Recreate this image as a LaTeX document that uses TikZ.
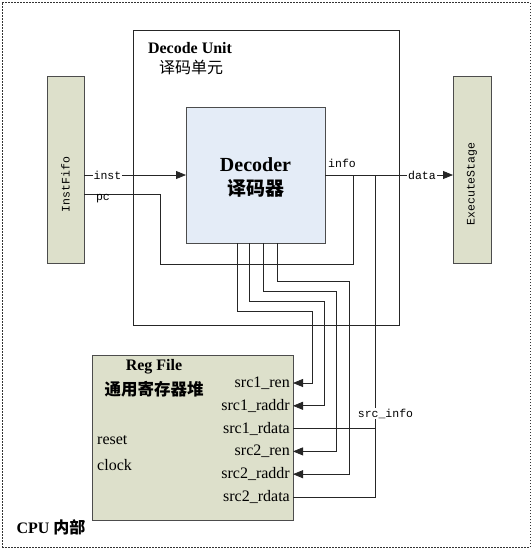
\documentclass[tikz,border=0pt]{standalone}
\usepackage{fontspec}
\setmainfont{Liberation Serif}
\setmonofont{Liberation Mono}
\newfontfamily\cjk{Noto Sans CJK SC}
\usetikzlibrary{arrows.meta}
\usetikzlibrary{calc}

\definecolor{olivefill}{RGB}{221,224,203}
\definecolor{bluefill}{RGB}{228,236,247}

\tikzset{
  blockbox/.style={draw=black!70, line width=1pt, inner sep=0pt, outer sep=0pt, anchor=north west},
  sig/.style={draw=black!85, line width=0.8pt},
  arr/.style={sig, -{Triangle[length=10pt,width=8pt]}},
  port/.style={anchor=east, inner sep=0pt, font=\fontsize{16}{17}\selectfont},
  wire text/.style={inner sep=1pt, font=\ttfamily\fontsize{11.5}{13}\selectfont},
  wirelabel/.style={wire text, fill=white},
}

\begin{document}
\begin{tikzpicture}[x=1pt,y=1pt,yscale=-1,xscale=1]
\useasboundingbox (0,0) rectangle (532,550);

%Shape: Rectangle (outer frame)
\node[blockbox, draw=black!80, line width=0.8pt, dash pattern=on 1.5pt off 1.5pt, minimum width=528pt, minimum height=545pt] (cpu) at (2,2) {};
%Shape: Rectangle
\node[blockbox, draw=black!85, line width=0.8pt, minimum width=266pt, minimum height=295pt] (unit) at (133,30) {};
%Shape: Rectangle
\node[blockbox, fill=olivefill, minimum width=37pt, minimum height=187pt] (fifo) at (47,76) {};
%Shape: Rectangle
\node[blockbox, fill=olivefill, minimum width=38pt, minimum height=187pt] (exec) at (453,76) {};
%Shape: Rectangle
\node[blockbox, fill=bluefill, minimum width=139pt, minimum height=136pt] (decoder) at (186,107) {};
%Shape: Rectangle
\node[blockbox, fill=olivefill, minimum width=201pt, minimum height=165pt] (regfile) at (92,355) {};

% Text Node
\node[font=\bfseries\fontsize{16}{18}\selectfont] (unittitle) at (190,48) {Decode Unit};
% Text Node
\node[font=\cjk\fontsize{16}{18}\selectfont] (unittitlecn) at (191,67) {译码单元};
% Text Node
\node[font=\bfseries\fontsize{20}{22}\selectfont] (dectitle) at (255.5,165) {Decoder};
% Text Node
\node[font=\cjk\bfseries\fontsize{19}{21}\selectfont] (dectitlecn) at (255.5,188) {译码器};
% Text Node
\node[font=\bfseries\fontsize{16}{18}\selectfont] (rftitle) at (154,367) {Reg File};
% Text Node
\node[font=\cjk\bfseries\fontsize{16.5}{18}\selectfont] (rftitlecn) at (154,389) {通用寄存器堆};
% Text Node
\node[port, anchor=west] (reset) at (97,440) {reset};
% Text Node
\node[port, anchor=west] (clock) at (97,465) {clock};
% Text Node
\node[anchor=west, font=\bfseries\fontsize{16}{18}\selectfont] (cpulbl) at (13,527) {CPU {\cjk 内部}};
% Text Node
\node[wire text, rotate=90] (fifolbl) at (65.5,184.5) {InstFifo};
% Text Node
\node[wire text, rotate=90] (execlbl) at (472,184) {ExecuteStage};

% Text Node (ports)
\node[port] (ren1) at (290,383) {src1\_ren};
\node[port] (raddr1) at (290,405.8) {src1\_raddr};
\node[port] (rdata1) at (290,428.6) {src1\_rdata};
\node[port] (ren2) at (290,451.4) {src2\_ren};
\node[port] (raddr2) at (290,474.2) {src2\_raddr};
\node[port] (rdata2) at (290,497) {src2\_rdata};

\coordinate (pcjoin) at (353,175);
\coordinate (srcjoin) at (375,175);

%Straight Lines (inst)
\draw[arr] (fifo.east |- decoder.west) -- (decoder.west);
%Straight Lines (info -> data)
\draw[arr] (decoder.east) -- (exec.west |- decoder.east);
%Straight Lines (pc)
\draw[sig] (fifo.east |- 0,194) -| (160,264) -| (pcjoin);
%Straight Lines (src_info)
\draw[sig] (srcjoin) |- (regfile.east |- rdata2);
\draw[sig] (regfile.east |- rdata1) -- (srcjoin |- rdata1);
%Straight Lines (read ports)
\draw[arr] ([xshift=51pt]decoder.south west) |- (312,311) |- (regfile.east |- ren1);
\draw[arr] ([xshift=63pt]decoder.south west) |- (324,301) |- (regfile.east |- raddr1);
\draw[arr] ([xshift=77pt]decoder.south west) |- (336,291) |- (regfile.east |- ren2);
\draw[arr] ([xshift=91pt]decoder.south west) |- (349,281) |- (regfile.east |- raddr2);

% Text Node
\node[wirelabel] (instlbl) at (107.5,175) {inst};
% Text Node
\node[wirelabel] (datalbl) at (422,175) {data};
% Text Node
\node[wirelabel] (srclbl) at (385.5,413.5) {src\_info};
% Text Node
\node[wire text, anchor=west] (infolbl) at (327,163) {info};
% Text Node
\node[wire text, anchor=base] (pclbl) at (103,200.5) {pc};
\end{tikzpicture}
\end{document}
